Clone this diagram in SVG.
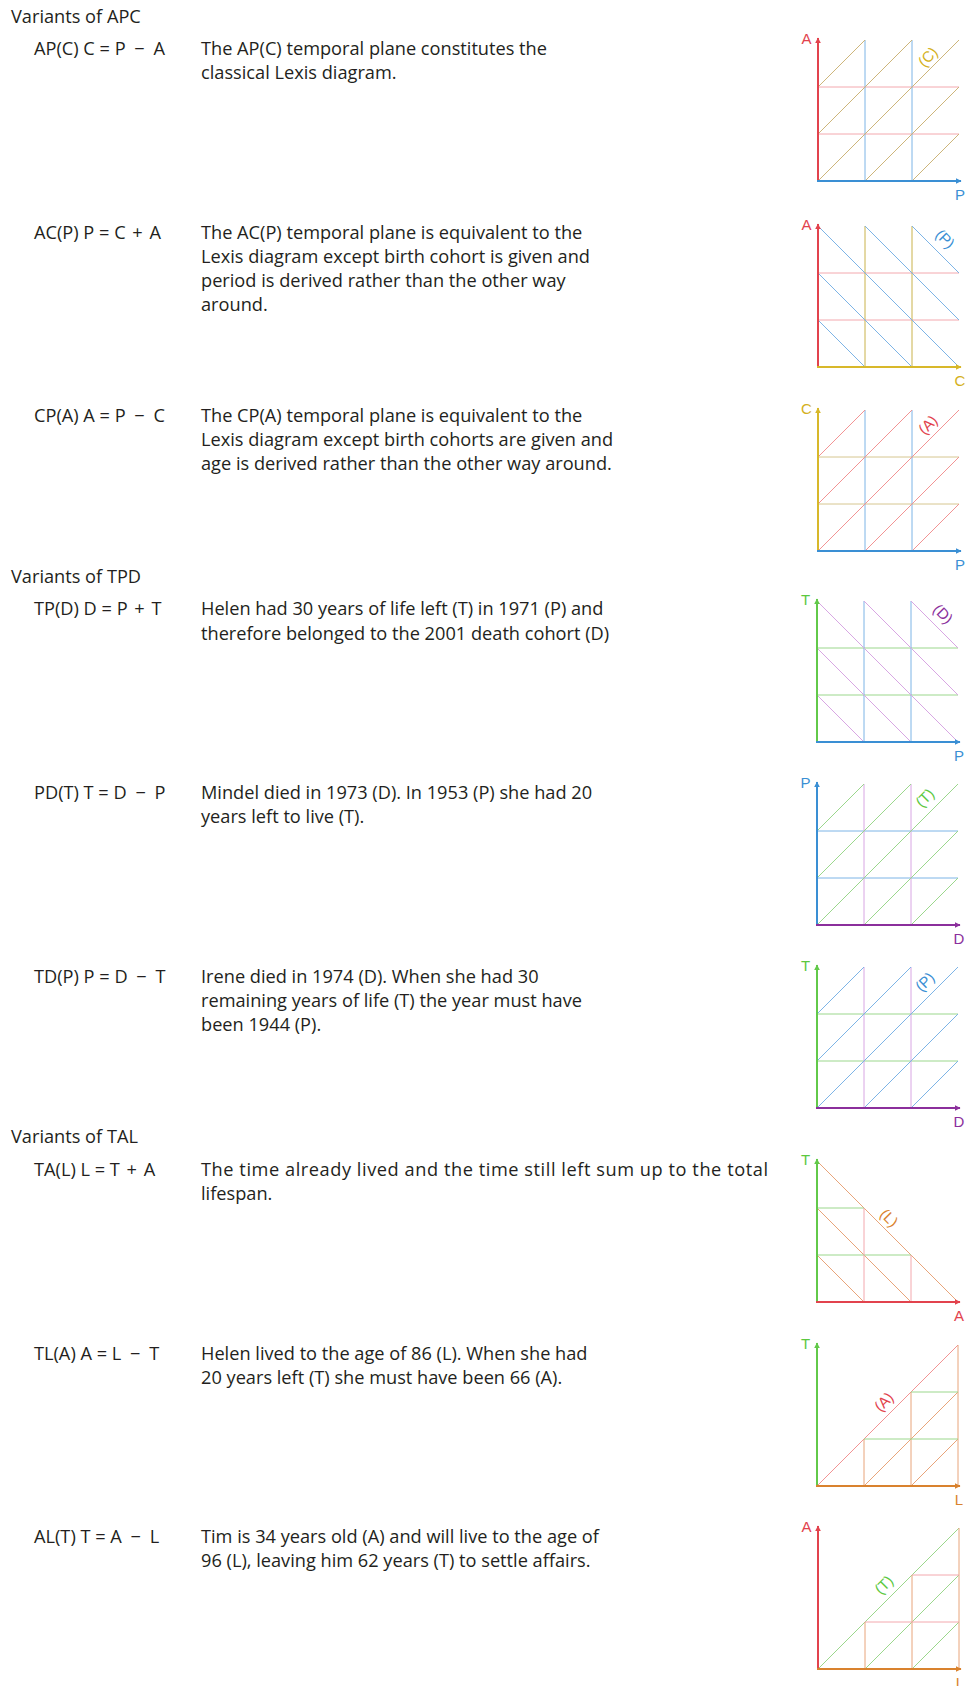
<svg xmlns="http://www.w3.org/2000/svg" width="967" height="1686" viewBox="0 0 967 1686">
<style>
.t{font-family:"Open Sans","Noto Sans",sans-serif;font-size:18.2px;fill:#231f20}
.ax{font-family:"Liberation Sans",Arial,sans-serif;font-size:15px;text-anchor:middle}
.lb{font-family:"Liberation Sans",Arial,sans-serif;font-size:15px;text-anchor:middle}
.g{fill:none;stroke-width:1}
.a{fill:none;stroke-width:2}
.cR{stroke:#e2434d}.fR{fill:#e2434d}
.cB{stroke:#3a8fd4}.fB{fill:#3a8fd4}
.cY{stroke:#d8b82a}.fY{fill:#d4b020}
.cG{stroke:#62c94a}.fG{fill:#5cc840}
.cU{stroke:#8b2f9c}.fU{fill:#8b2f9c}
.cO{stroke:#d9822e}.fO{fill:#d9822e}
.lR{stroke:#f3a8ae}.lRd{stroke:#f29393}
.lB{stroke:#7db4e6}
.lT{stroke:#cdb57a}.lY{stroke:#c9b24a}.lYl{stroke:#d6c690}
.lG{stroke:#9bd78c}
.lU{stroke:#d8a6e3}
.lO{stroke:#e8a47a}
</style>
<defs>
<marker id="mR" viewBox="0 0 10 10" refX="9" refY="5" markerWidth="3" markerHeight="3" orient="auto"><path d="M0,0L10,5L0,10z" fill="#e2434d"/></marker>
<marker id="mB" viewBox="0 0 10 10" refX="9" refY="5" markerWidth="3" markerHeight="3" orient="auto"><path d="M0,0L10,5L0,10z" fill="#3a8fd4"/></marker>
<marker id="mY" viewBox="0 0 10 10" refX="9" refY="5" markerWidth="3" markerHeight="3" orient="auto"><path d="M0,0L10,5L0,10z" fill="#d8b82a"/></marker>
<marker id="mG" viewBox="0 0 10 10" refX="9" refY="5" markerWidth="3" markerHeight="3" orient="auto"><path d="M0,0L10,5L0,10z" fill="#62c94a"/></marker>
<marker id="mU" viewBox="0 0 10 10" refX="9" refY="5" markerWidth="3" markerHeight="3" orient="auto"><path d="M0,0L10,5L0,10z" fill="#8b2f9c"/></marker>
<marker id="mO" viewBox="0 0 10 10" refX="9" refY="5" markerWidth="3" markerHeight="3" orient="auto"><path d="M0,0L10,5L0,10z" fill="#d9822e"/></marker>
</defs>
<rect width="967" height="1686" fill="#fff"/>

<text class="t" x="11" y="23">Variants of APC</text>
<text class="t" x="11" y="583">Variants of TPD</text>
<text class="t" x="11" y="1143">Variants of TAL</text>

<g id="apc">
<text class="t" x="34" y="55">AP(C) C = P<tspan dx="4"> −</tspan><tspan dx="4"> A</tspan></text>
<text class="t" x="201" y="55">The AP(C) temporal plane constitutes the</text>
<text class="t" x="201" y="79">classical Lexis diagram.</text>
<path class="g lR" d="M818 134H959M818 87H959"/>
<path class="g lB" d="M865 181V40M912 181V40"/>
<path class="g lT" d="M818 181L959 40M818 134L912 40M818 87L865 40M865 181L959 87M912 181L959 134"/>
<path class="a cR" d="M818 182V38" marker-end="url(#mR)"/>
<path class="a cB" d="M817 181H961" marker-end="url(#mB)"/>
<text class="ax fR" x="806.5" y="44">A</text>
<text class="ax fB" x="960" y="200">P</text>
<text class="lb fY" x="928" y="57" dy="5" transform="rotate(-45 928 57)">(C)</text>
</g>

<g id="acp">
<text class="t" x="34" y="239">AC(P) P = C<tspan dx="2"> +</tspan><tspan dx="2"> A</tspan></text>
<text class="t" x="201" y="239">The AC(P) temporal plane is equivalent to the</text>
<text class="t" x="201" y="263">Lexis diagram except birth cohort is given and</text>
<text class="t" x="201" y="287">period is derived rather than the other way</text>
<text class="t" x="201" y="311">around.</text>
<path class="g lR" d="M818 320H959M818 273H959"/>
<path class="g lY" d="M865 367V226M912 367V226"/>
<path class="g lB" d="M818 226L959 367M818 273L912 367M818 320L865 367M865 226L959 320M912 226L959 273"/>
<path class="a cR" d="M818 368V224" marker-end="url(#mR)"/>
<path class="a cY" d="M817 367H961" marker-end="url(#mY)"/>
<text class="ax fR" x="806.5" y="230">A</text>
<text class="ax fY" x="960" y="386">C</text>
<text class="lb fB" x="945" y="239" dy="5" transform="rotate(45 945 239)">(P)</text>
</g>

<g id="cpa">
<text class="t" x="34" y="422">CP(A) A = P<tspan dx="4"> −</tspan><tspan dx="4"> C</tspan></text>
<text class="t" x="201" y="422">The CP(A) temporal plane is equivalent to the</text>
<text class="t" x="201" y="446">Lexis diagram except birth cohorts are given and</text>
<text class="t" x="201" y="470">age is derived rather than the other way around.</text>
<path class="g lYl" d="M818 504H959M818 457H959"/>
<path class="g lB" d="M865 551V410M912 551V410"/>
<path class="g lRd" d="M818 551L959 410M818 504L912 410M818 457L865 410M865 551L959 457M912 551L959 504"/>
<path class="a cY" d="M818 552V408" marker-end="url(#mY)"/>
<path class="a cB" d="M817 551H961" marker-end="url(#mB)"/>
<text class="ax fY" x="806.5" y="414">C</text>
<text class="ax fB" x="960" y="570">P</text>
<text class="lb fR" x="928" y="425" dy="5" transform="rotate(-45 928 425)">(A)</text>
</g>

<g id="tpd">
<text class="t" x="34" y="615">TP(D) D = P<tspan dx="2"> +</tspan><tspan dx="2"> T</tspan></text>
<text class="t" x="201" y="615">Helen had 30 years of life left (T) in 1971 (P) and</text>
<text class="t" x="201" y="640">therefore belonged to the 2001 death cohort (D)</text>
<path class="g lG" d="M817 695H958M817 648H958"/>
<path class="g lB" d="M864 742V601M911 742V601"/>
<path class="g lU" d="M817 601L958 742M817 648L911 742M817 695L864 742M864 601L958 695M911 601L958 648"/>
<path class="a cG" d="M817 743V599" marker-end="url(#mG)"/>
<path class="a cB" d="M816 742H960" marker-end="url(#mB)"/>
<text class="ax fG" x="805.5" y="605">T</text>
<text class="ax fB" x="959" y="761">P</text>
<text class="lb fU" x="943" y="614" dy="5" transform="rotate(45 943 614)">(D)</text>
</g>

<g id="pdt">
<text class="t" x="34" y="799">PD(T) T = D<tspan dx="4"> −</tspan><tspan dx="4"> P</tspan></text>
<text class="t" x="201" y="799">Mindel died in 1973 (D). In 1953 (P) she had 20</text>
<text class="t" x="201" y="823">years left to live (T).</text>
<path class="g lB" d="M817 878H958M817 831H958"/>
<path class="g lU" d="M864 925V784M911 925V784"/>
<path class="g lG" d="M817 925L958 784M817 878L911 784M817 831L864 784M864 925L958 831M911 925L958 878"/>
<path class="a cB" d="M817 926V782" marker-end="url(#mB)"/>
<path class="a cU" d="M816 925H960" marker-end="url(#mU)"/>
<text class="ax fB" x="805.5" y="788">P</text>
<text class="ax fU" x="959" y="944">D</text>
<text class="lb fG" x="925" y="798" dy="5" transform="rotate(-45 925 798)">(T)</text>
</g>

<g id="tdp">
<text class="t" x="34" y="983">TD(P) P = D<tspan dx="4"> −</tspan><tspan dx="4"> T</tspan></text>
<text class="t" x="201" y="983">Irene died in 1974 (D). When she had 30</text>
<text class="t" x="201" y="1007">remaining years of life (T) the year must have</text>
<text class="t" x="201" y="1031">been 1944 (P).</text>
<path class="g lG" d="M817 1061H958M817 1014H958"/>
<path class="g lU" d="M864 1108V967M911 1108V967"/>
<path class="g lB" d="M817 1108L958 967M817 1061L911 967M817 1014L864 967M864 1108L958 1014M911 1108L958 1061"/>
<path class="a cG" d="M817 1109V965" marker-end="url(#mG)"/>
<path class="a cU" d="M816 1108H960" marker-end="url(#mU)"/>
<text class="ax fG" x="805.5" y="971">T</text>
<text class="ax fU" x="959" y="1127">D</text>
<text class="lb fB" x="925" y="982" dy="5" transform="rotate(-45 925 982)">(P)</text>
</g>

<g id="tal">
<text class="t" x="34" y="1176">TA(L) L = T<tspan dx="2"> +</tspan><tspan dx="2"> A</tspan></text>
<text class="t" x="201" y="1176" textLength="567" lengthAdjust="spacing">The time already lived and the time still left sum up to the total</text>
<text class="t" x="201" y="1200">lifespan.</text>
<path class="g lO" d="M817 1161L958 1302M817 1208L911 1302M817 1255L864 1302"/>
<path class="g lG" d="M817 1208H864M817 1255H911"/>
<path class="g lR" d="M864 1208V1302M911 1255V1302"/>
<path class="a cG" d="M817 1303V1159" marker-end="url(#mG)"/>
<path class="a cR" d="M816 1302H960" marker-end="url(#mR)"/>
<text class="ax fG" x="805.5" y="1165">T</text>
<text class="ax fR" x="959" y="1321">A</text>
<text class="lb fO" x="889" y="1218" dy="5" transform="rotate(45 889 1218)">(L)</text>
</g>

<g id="tla">
<text class="t" x="34" y="1360">TL(A) A = L<tspan dx="4"> −</tspan><tspan dx="4"> T</tspan></text>
<text class="t" x="201" y="1360">Helen lived to the age of 86 (L). When she had</text>
<text class="t" x="201" y="1384">20 years left (T) she must have been 66 (A).</text>
<path class="g lRd" d="M817 1486L958 1345"/>
<path class="g lO" d="M958 1345V1486M864 1439V1486M911 1392V1486M864 1486L958 1392M911 1486L958 1439"/>
<path class="g lG" d="M911 1392H958M864 1439H958"/>
<path class="a cG" d="M817 1487V1343" marker-end="url(#mG)"/>
<path class="a cO" d="M816 1486H960" marker-end="url(#mO)"/>
<text class="ax fG" x="805.5" y="1349">T</text>
<text class="ax fO" x="959" y="1505">L</text>
<text class="lb fR" x="884" y="1402" dy="5" transform="rotate(-45 884 1402)">(A)</text>
</g>

<g id="alt">
<text class="t" x="34" y="1543">AL(T) T = A<tspan dx="4"> −</tspan><tspan dx="4"> L</tspan></text>
<text class="t" x="201" y="1543">Tim is 34 years old (A) and will live to the age of</text>
<text class="t" x="201" y="1567">96 (L), leaving him 62 years (T) to settle affairs.</text>
<path class="g lG" d="M818 1669L959 1528M865 1669L959 1575M912 1669L959 1622"/>
<path class="g lO" d="M959 1528V1669M865 1622V1669M912 1575V1669"/>
<path class="g lR" d="M912 1575H959M865 1622H959"/>
<path class="a cR" d="M818 1670V1526" marker-end="url(#mR)"/>
<path class="a cO" d="M817 1669H961" marker-end="url(#mO)"/>
<text class="ax fR" x="806.5" y="1532">A</text>
<text class="ax fO" x="960" y="1688">L</text>
<text class="lb fG" x="884" y="1585" dy="5" transform="rotate(-45 884 1585)">(T)</text>
</g>
</svg>
